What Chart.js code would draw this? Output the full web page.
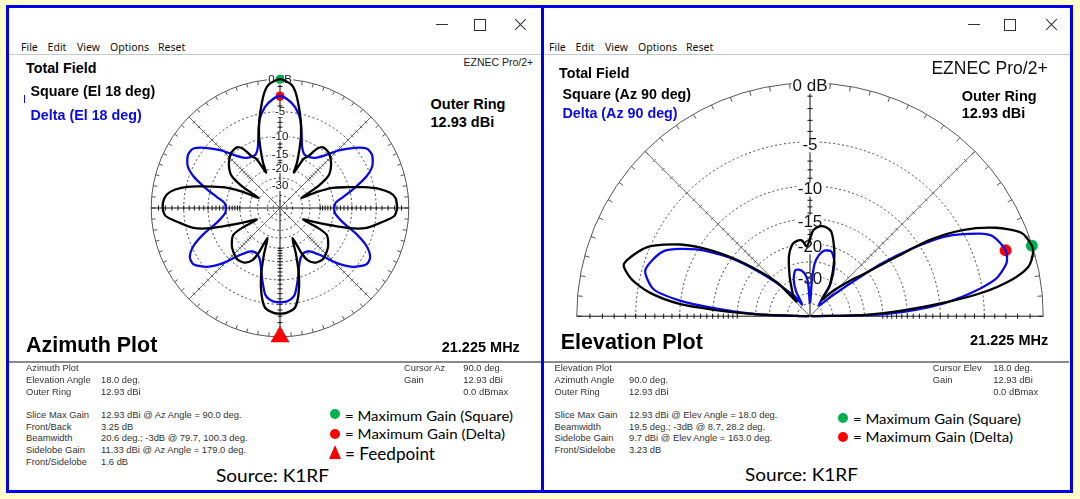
<!DOCTYPE html>
<html>
<head>
<meta charset="utf-8">
<script src="https://cdn.jsdelivr.net/npm/chart.js@4.4.0/dist/chart.umd.min.js"></script>
<style>
body { margin: 0; width: 1080px; height: 499px; overflow: hidden; position: relative; background: #ffffcc; }
.win { position: absolute; background: #fff; border: 3px solid #0000f0; box-sizing: border-box; }
.t { position: absolute; white-space: nowrap; line-height: 1; transform: translateY(-50%); font-family: "Liberation Sans", Arial, sans-serif; color: #000; }
.b { font-weight: bold; font-size: 14.3px; }
.blue { color: #0a0ae6; }
.s { font-size: 9.4px; color: #333; }
.m { font-family: "Noto Sans", sans-serif; font-size: 10.5px; color: #111; }
.lg { font-family: Lato, sans-serif; font-size: 14px; color: #000; }
.big { font-weight: bold; font-size: 21.5px; }
.line { position: absolute; height: 1px; background: #c8c8c8; }
.sep { position: absolute; height: 2px; background: #8a8a8a; }
.dot { position: absolute; width: 10px; height: 10px; border-radius: 50%; transform: translate(-50%, -50%); }
.cv { position: absolute; }
.ic { position: absolute; background: #333; }
</style>
</head>
<body>

<div class="win" style="left:6px;top:5px;width:538px;height:488px;"></div>
<div class="win" style="left:541px;top:5px;width:532px;height:488px;"></div>

<div class="cv" style="left:130px;top:58px;"><canvas id="az" width="300" height="300"></canvas></div>
<div class="cv" style="left:560px;top:71px;"><canvas id="el" width="500" height="262"></canvas></div>

<!-- title bar icons -->
<div class="ic" style="left:436px;top:24px;width:12px;height:1px;"></div>
<div class="ic" style="left:474px;top:19px;width:10px;height:10px;background:none;border:1px solid #333;"></div>
<div class="ic" style="left:513px;top:24px;width:15px;height:1px;transform:rotate(45deg);"></div>
<div class="ic" style="left:513px;top:24px;width:15px;height:1px;transform:rotate(-45deg);"></div>
<div class="ic" style="left:968px;top:24px;width:12px;height:1px;"></div>
<div class="ic" style="left:1004px;top:19px;width:10px;height:10px;background:none;border:1px solid #333;"></div>
<div class="ic" style="left:1044px;top:24px;width:15px;height:1px;transform:rotate(45deg);"></div>
<div class="ic" style="left:1044px;top:24px;width:15px;height:1px;transform:rotate(-45deg);"></div>

<!-- menus -->
<div class="t m" style="left:21px;top:47px;">File</div>
<div class="t m" style="left:47.6px;top:47px;">Edit</div>
<div class="t m" style="left:77px;top:47px;">View</div>
<div class="t m" style="left:110px;top:47px;">Options</div>
<div class="t m" style="left:158px;top:47px;">Reset</div>
<div class="t m" style="left:549px;top:47px;">File</div>
<div class="t m" style="left:575.6px;top:47px;">Edit</div>
<div class="t m" style="left:605px;top:47px;">View</div>
<div class="t m" style="left:638px;top:47px;">Options</div>
<div class="t m" style="left:686px;top:47px;">Reset</div>
<div class="line" style="left:9px;top:54px;width:532px;"></div>
<div class="line" style="left:544px;top:54px;width:526px;"></div>

<!-- left window labels -->
<div class="t b" style="left:26px;top:67.7px;">Total Field</div>
<div class="ic" style="left:23.5px;top:95px;width:1.5px;height:8px;background:#0a0ae6;"></div>
<div class="t b" style="left:30.5px;top:90.7px;">Square (El 18 deg)</div>
<div class="t b blue" style="left:30.5px;top:115px;">Delta (El 18 deg)</div>
<div class="t" style="left:463.5px;top:62px;font-size:10.5px;color:#222;">EZNEC Pro/2+</div>
<div class="t b" style="left:430.5px;top:104px;font-size:14.5px;">Outer Ring</div>
<div class="t b" style="left:430.5px;top:121.7px;font-size:14.5px;">12.93 dBi</div>
<div class="t big" style="left:26px;top:345.7px;">Azimuth Plot</div>
<div class="t b" style="left:441.7px;top:346.7px;font-size:14.5px;">21.225 MHz</div>
<div class="sep" style="left:9px;top:360.5px;width:532px;"></div>

<div class="t s" style="left:26px;top:368.3px;">Azimuth Plot</div>
<div class="t s" style="left:26px;top:380px;">Elevation Angle</div>
<div class="t s" style="left:26px;top:391.7px;">Outer Ring</div>
<div class="t s" style="left:26px;top:415px;">Slice Max Gain</div>
<div class="t s" style="left:26px;top:426.7px;">Front/Back</div>
<div class="t s" style="left:26px;top:438.3px;">Beamwidth</div>
<div class="t s" style="left:26px;top:450px;">Sidelobe Gain</div>
<div class="t s" style="left:26px;top:461.7px;">Front/Sidelobe</div>
<div class="t s" style="left:101px;top:380px;">18.0 deg.</div>
<div class="t s" style="left:101px;top:391.7px;">12.93 dBi</div>
<div class="t s" style="left:101px;top:415px;">12.93 dBi @ Az Angle = 90.0 deg.</div>
<div class="t s" style="left:101px;top:426.7px;">3.25 dB</div>
<div class="t s" style="left:101px;top:438.3px;">20.6 deg.; -3dB @ 79.7, 100.3 deg.</div>
<div class="t s" style="left:101px;top:450px;">11.33 dBi @ Az Angle = 179.0 deg.</div>
<div class="t s" style="left:101px;top:461.7px;">1.6 dB</div>
<div class="t s" style="left:404px;top:368.3px;">Cursor Az</div>
<div class="t s" style="left:404px;top:380px;">Gain</div>
<div class="t s" style="left:463.3px;top:368.3px;">90.0 deg.</div>
<div class="t s" style="left:463.3px;top:380px;">12.93 dBi</div>
<div class="t s" style="left:463.3px;top:391.7px;">0.0 dBmax</div>

<div class="dot" style="left:335px;top:414px;background:#00b050;"></div>
<div class="t lg" style="left:345px;top:416px;" data-w="168">= Maximum Gain (Square)</div>
<div class="dot" style="left:335px;top:434.3px;background:#ff0000;"></div>
<div class="t lg" style="left:345px;top:434.3px;" data-w="160">= Maximum Gain (Delta)</div>
<div style="position:absolute;left:329.3px;top:445px;width:0;height:0;border-left:6.2px solid transparent;border-right:6.2px solid transparent;border-bottom:14px solid #ff0000;"></div>
<div class="t lg" style="left:345px;top:452.7px;font-size:18px;" data-w="90">= Feedpoint</div>
<div class="t lg" style="left:216px;top:475px;font-size:17px;" data-w="113">Source: K1RF</div>

<!-- right window labels -->
<div class="t b" style="left:559px;top:72.7px;">Total Field</div>
<div class="t b" style="left:562.4px;top:94.3px;">Square (Az 90 deg)</div>
<div class="t b blue" style="left:562.4px;top:113.3px;">Delta (Az 90 deg)</div>
<div class="t" style="left:931.4px;top:69px;font-size:17.5px;color:#111;">EZNEC Pro/2+</div>
<div class="t b" style="left:961.7px;top:96px;font-size:14.5px;">Outer Ring</div>
<div class="t b" style="left:961.7px;top:113.3px;font-size:14.5px;">12.93 dBi</div>
<div class="t big" style="left:560.7px;top:343.3px;">Elevation Plot</div>
<div class="t b" style="left:970px;top:340px;font-size:14.5px;">21.225 MHz</div>
<div class="sep" style="left:544px;top:360.5px;width:525px;"></div>

<div class="t s" style="left:554.5px;top:368.3px;">Elevation Plot</div>
<div class="t s" style="left:554.5px;top:380px;">Azimuth Angle</div>
<div class="t s" style="left:554.5px;top:391.7px;">Outer Ring</div>
<div class="t s" style="left:554.5px;top:415px;">Slice Max Gain</div>
<div class="t s" style="left:554.5px;top:426.7px;">Beamwidth</div>
<div class="t s" style="left:554.5px;top:438.3px;">Sidelobe Gain</div>
<div class="t s" style="left:554.5px;top:450px;">Front/Sidelobe</div>
<div class="t s" style="left:629px;top:380px;">90.0 deg.</div>
<div class="t s" style="left:629px;top:391.7px;">12.93 dBi</div>
<div class="t s" style="left:629px;top:415px;">12.93 dBi @ Elev Angle = 18.0 deg.</div>
<div class="t s" style="left:629px;top:426.7px;">19.5 deg.; -3dB @ 8.7, 28.2 deg.</div>
<div class="t s" style="left:629px;top:438.3px;">9.7 dBi @ Elev Angle = 163.0 deg.</div>
<div class="t s" style="left:629px;top:450px;">3.23 dB</div>
<div class="t s" style="left:932.7px;top:368.3px;">Cursor Elev</div>
<div class="t s" style="left:932.7px;top:380px;">Gain</div>
<div class="t s" style="left:993.3px;top:368.3px;">18.0 deg.</div>
<div class="t s" style="left:993.3px;top:380px;">12.93 dBi</div>
<div class="t s" style="left:993.3px;top:391.7px;">0.0 dBmax</div>

<div class="dot" style="left:843.3px;top:418.3px;background:#00b050;"></div>
<div class="t lg" style="left:853.3px;top:419.3px;" data-w="168">= Maximum Gain (Square)</div>
<div class="dot" style="left:843.3px;top:437.3px;background:#ff0000;"></div>
<div class="t lg" style="left:853.3px;top:437.3px;" data-w="160">= Maximum Gain (Delta)</div>
<div class="t lg" style="left:745px;top:474px;font-size:17px;" data-w="113">Source: K1RF</div>

<script>
// grid rings (dB below outer ring) and the labelled ones
const ringDb = [-5, -10, -15, -20, -25, -30, -40, -50];
const labelDb = [0, -5, -10, -15, -20, -30];
const labelText = ['0 dB', '-5', '-10', '-15', '-20', '-30'];

// azimuth plot, El 18 deg: angle (deg, 0 = right, ccw) and dB rel. outer ring
const azSquareDeg = [0, 5, 8, 11, 14, 17, 21, 23.5, 25, 27.5, 30.5, 34, 41.5, 48.5, 54.5, 58, 61.5, 64.5, 68.5, 69.5, 71.5, 74, 77, 80, 82.5, 85,
    90, 95, 97.5, 100, 103, 106, 108.5, 110.5, 111.5, 115.5, 118.5, 122, 125.5, 131.5, 138.5, 146, 149.5, 152.5, 155, 156.5, 159, 162.5, 165.5, 168.5, 171.5, 175,
    180, 184, 188, 193, 196.5, 199, 201.5, 206.5, 207.5, 210, 219, 229.5, 237, 242, 244.5, 247.5, 251, 254.5, 258, 261.5, 266.5,
    270, 273.5, 278.5, 282, 285.5, 289, 292.5, 295.5, 298, 303, 310.5, 321, 330, 332.5, 333.5, 338.5, 341, 343.5, 347, 352, 356, 360];
const azSquareDb = [-1.6, -1.8, -2.6, -4.2, -6.9, -10.2, -14.2, -19.9, -29, -24.3, -17.4, -13.4, -10.9, -9.6, -9.4, -10.5, -13.5, -14.9, -20.9, -16.8, -12.9, -9.0, -5.9, -3.4, -1.6, -0.6,
    0, -0.6, -1.6, -3.4, -5.9, -9.0, -12.9, -16.8, -20.9, -14.9, -13.5, -10.5, -9.4, -9.6, -10.9, -13.4, -17.4, -24.3, -29, -19.9, -14.2, -10.2, -6.9, -4.2, -2.6, -1.8,
    -1.6, -2.0, -3.9, -6.4, -10.3, -15.5, -20.1, -27.6, -19.4, -14.9, -12.6, -11.3, -11.7, -13.3, -16.2, -23.7, -16.4, -10.2, -6.4, -4.2, -3.5,
    -3.4, -3.5, -4.2, -6.4, -10.2, -16.4, -23.7, -16.2, -13.3, -11.7, -11.3, -12.6, -14.9, -19.4, -27.6, -20.1, -15.5, -10.3, -6.4, -3.9, -2.0, -1.6];
const azDeltaDeg = [0, 5.5, 10, 15.5, 20, 24.5, 30, 34.5, 39, 44.5, 49, 56, 65, 70, 73.5, 77, 81.5, 86,
    90, 94, 98.5, 103, 106.5, 110, 115, 124, 131, 135.5, 141, 145.5, 150, 155.5, 160, 164.5, 170, 174.5,
    180, 185.5, 193, 198.5, 203.5, 208.5, 213, 219, 224.5, 229.5, 236, 243, 249.5, 256, 260.5, 265.5,
    270, 274.5, 279.5, 284, 290.5, 297, 304, 310.5, 315.5, 321, 327, 331.5, 336.5, 341.5, 347, 354.5, 360];
const azDeltaDb = [-14.9, -14.3, -11.9, -8.5, -5.8, -4.1, -3.3, -3.5, -5.1, -7.7, -10.4, -13.0, -13.5, -11.8, -9.0, -6.0, -4.0, -2.9,
    -2.4, -2.9, -4.0, -6.0, -9.0, -11.8, -13.5, -13.0, -10.4, -7.7, -5.1, -3.5, -3.3, -4.1, -5.8, -8.5, -11.9, -14.3,
    -14.9, -14.5, -11.8, -8.2, -5.4, -3.9, -3.8, -5.5, -8.6, -12.6, -15.5, -15.9, -14.1, -9.6, -6.5, -5.5,
    -5.4, -5.5, -6.5, -9.6, -14.1, -15.9, -15.5, -12.6, -8.6, -5.5, -3.8, -3.9, -5.4, -8.2, -11.8, -14.5, -14.9];
const feedDeg = 270;

// elevation plot, Az 90 deg
const elSquareDeg = [0, 1.5, 4, 6, 8, 10.5, 13, 16, 18, 22, 26, 30, 33, 35, 38.5, 42.5, 48.5, 55, 58, 61, 65, 70, 76, 80, 84, 88,
    92.5, 96, 100, 104, 109, 116.5, 124, 130, 132, 133.5, 140.5, 145.5, 150.5, 156.5, 164, 168, 171.5, 174.5, 176, 178, 180];
const elSquareDb = [-99, -24.7, -14.9, -9.1, -5.0, -2.2, -0.7, -0.1, 0, -0.4, -2.1, -4.8, -8.3, -13.3, -20.5, -25.4, -32.8, -42, -31.5, -28.5, -24.6, -20.4, -16.6, -15.9, -15.9, -16.8,
    -20.3, -18.8, -18.8, -19.5, -22, -28, -34, -38, -42, -27.4, -17.4, -11.7, -7.7, -4.7, -3.2, -4.2, -6.3, -9.9, -14.9, -26, -99];
const elDeltaDeg = [0, 1.5, 4.5, 7.5, 11.5, 15.5, 19, 24, 26.5, 31, 34, 37, 40, 43, 52, 57.5, 65.5, 72, 78, 82, 85, 87, 89,
    91, 93, 95, 100, 107, 113.5, 119, 123, 127.5, 138, 143.5, 149, 155.5, 164, 170, 173, 175, 178, 180];
const elDeltaDb = [-99, -20.3, -11.3, -7.1, -3.6, -2.3, -2.06, -2.6, -3.6, -6.6, -10.6, -16.4, -26.1, -34, -48, -31.8, -23.6, -20.8, -21.0, -22.5, -25, -32, -48,
    -48, -34, -30, -27.4, -26.6, -29.9, -36, -48, -37, -21.8, -14.3, -9.7, -6.4, -5.3, -6.6, -9.9, -14.9, -26, -99];

const BLACK = '#000000', BLUE = '#0a0ae6', GREEN = '#00b050', RED = '#ff0000';

// ARRL log scale: radius shrinks by 0.89 every 2 dB
function radius(db) { return Math.pow(0.89, -db / 2); }
function toXY(deg, db) {
    const a = deg * Math.PI / 180, r = radius(db);
    return { x: r * Math.cos(a), y: r * Math.sin(a) };
}
function polarPoints(deg, db) { return deg.map((d, i) => toXY(d, db[i])); }
function peak(deg, db) {
    const i = db.indexOf(Math.max(...db));
    return toXY(deg[i], db[i]);
}

const polarGrid = {
    id: 'polarGrid',
    beforeDatasetsDraw(chart, args, o) {
        const ctx = chart.ctx, sx = chart.scales.x, sy = chart.scales.y;
        const cx = sx.getPixelForValue(0), cy = sy.getPixelForValue(0);
        const R = sx.getPixelForValue(1) - cx;
        const a0 = o.half ? Math.PI : 0;
        ctx.save();
        ctx.lineWidth = 1;

        ctx.strokeStyle = '#444';
        ctx.setLineDash([2, 2.5]);
        ringDb.forEach(function (d) {
            ctx.beginPath();
            ctx.arc(cx, cy, R * radius(d), a0, 2 * Math.PI);
            ctx.stroke();
        });
        ctx.setLineDash([]);

        ctx.strokeStyle = '#555';
        ctx.beginPath();
        ctx.arc(cx, cy, R, a0, 2 * Math.PI);
        ctx.stroke();
        const maxDeg = o.half ? 180 : 355;
        for (let d = 0; d <= maxDeg; d += 5) {
            const a = d * Math.PI / 180, c = Math.cos(a), s = Math.sin(a);
            ctx.beginPath();
            ctx.moveTo(cx + c * R, cy - s * R);
            ctx.lineTo(cx + c * (R - o.tick), cy - s * (R - o.tick));
            ctx.stroke();
        }

        // spokes with small cross ticks every dB down to -20
        o.spokes.forEach(function (d) {
            const axis = d % 90 === 0;
            const a = d * Math.PI / 180, c = Math.cos(a), s = Math.sin(a);
            ctx.strokeStyle = axis ? '#111' : '#666';
            ctx.beginPath();
            ctx.moveTo(cx, cy);
            ctx.lineTo(cx + c * R, cy - s * R);
            ctx.stroke();
            const h = axis ? 2.5 : 2;
            for (let db = -1; db >= -20; db--) {
                const r = R * radius(db);
                const px = cx + c * r, py = cy - s * r;
                ctx.beginPath();
                ctx.moveTo(px - s * h, py - c * h);
                ctx.lineTo(px + s * h, py + c * h);
                ctx.stroke();
            }
        });

        ctx.font = o.font;
        ctx.textAlign = 'center';
        ctx.textBaseline = 'middle';
        labelDb.forEach(function (d, i) {
            const yy = cy - R * radius(d) + o.shift;
            const w = ctx.measureText(labelText[i]).width;
            ctx.fillStyle = '#fff';
            ctx.fillRect(cx - w / 2 - 1, yy - o.size * 0.42, w + 2, o.size * 0.84);
            ctx.fillStyle = '#111';
            ctx.fillText(labelText[i], cx, yy);
        });
        ctx.restore();
    }
};

function curve(points, color) {
    return { data: points, showLine: true, borderColor: color, borderWidth: 2.3, pointRadius: 0, tension: 0.25, clip: false };
}
function marker(point, color, style, size) {
    return { data: [point], pointStyle: style, pointRadius: size, backgroundColor: color, borderWidth: 0, showLine: false, clip: false };
}
function baseOptions(xr, ymin, ymax, grid) {
    return {
        responsive: false,
        animation: false,
        events: [],
        layout: { padding: 0 },
        scales: {
            x: { type: 'linear', display: false, min: -xr, max: xr },
            y: { type: 'linear', display: false, min: ymin, max: ymax }
        },
        plugins: { legend: { display: false }, tooltip: { enabled: false }, polarGrid: grid }
    };
}

new Chart(document.getElementById('az'), {
    type: 'scatter',
    data: {
        datasets: [
            curve(polarPoints(azSquareDeg, azSquareDb), BLACK),
            curve(polarPoints(azDeltaDeg, azDeltaDb), BLUE),
            marker(peak(azSquareDeg, azSquareDb), GREEN, 'circle', 4.5),
            marker(peak(azDeltaDeg, azDeltaDb), RED, 'circle', 4.5),
            marker(toXY(feedDeg, 0), RED, 'triangle', 11)
        ]
    },
    options: baseOptions(150 / 139, -150 / 139, 150 / 139,
        { half: false, tick: 4, spokes: [0, 45, 90, 135, 180, 225, 270, 315], font: '11.5px "Liberation Sans"', size: 11.5, shift: 0.5 }),
    plugins: [polarGrid]
});

new Chart(document.getElementById('el'), {
    type: 'scatter',
    data: {
        datasets: [
            curve(polarPoints(elSquareDeg, elSquareDb), BLACK),
            curve(polarPoints(elDeltaDeg, elDeltaDb), BLUE),
            marker(peak(elSquareDeg, elSquareDb), GREEN, 'circle', 6),
            marker(peak(elDeltaDeg, elDeltaDb), RED, 'circle', 6)
        ]
    },
    options: baseOptions(250 / 239, -11.3 / 239, 250.7 / 239,
        { half: true, tick: 5, spokes: [0, 45, 90, 135, 180], font: '17px "Liberation Sans"', size: 17, shift: 3.5 }),
    plugins: [polarGrid]
});

// stretch the substitute-font legend lines to the widths in the picture
document.querySelectorAll('[data-w]').forEach(function (el) {
    const k = el.dataset.w / el.getBoundingClientRect().width;
    el.style.transformOrigin = '0 50%';
    el.style.transform = 'translateY(-50%) scaleX(' + k + ')';
});
</script>
</body>
</html>
